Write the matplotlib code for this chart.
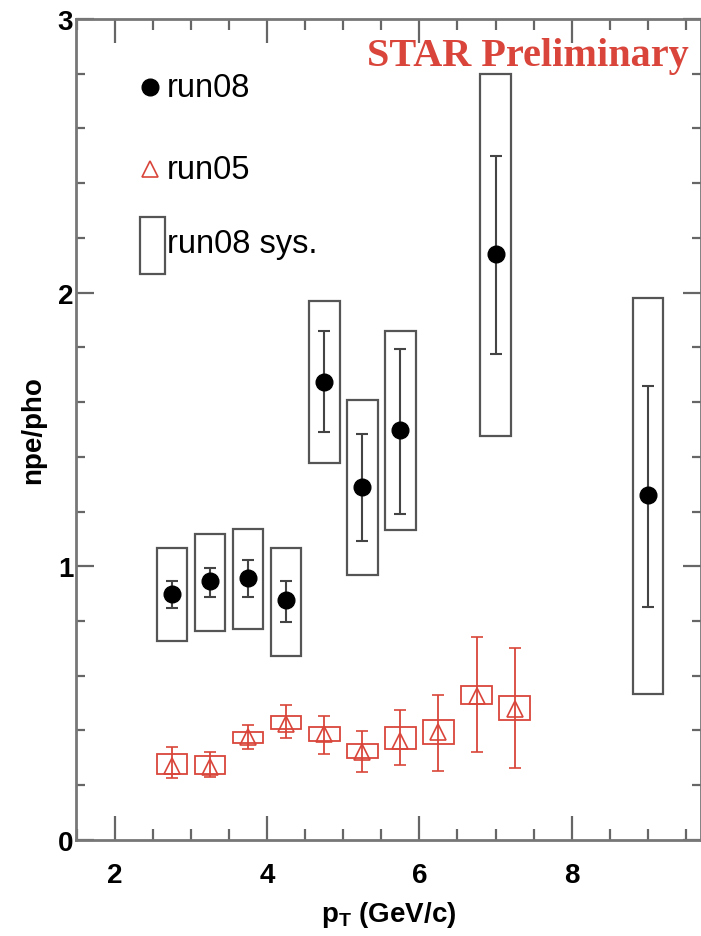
import numpy as np
import matplotlib.pyplot as plt
from matplotlib.patches import Rectangle
from matplotlib.ticker import MultipleLocator

# run08: npe/pho with stat errors and systematic bands
pt08 = [2.75, 3.25, 3.75, 4.25, 4.75, 5.25, 5.75, 7.0, 9.0]
r08 = [0.90, 0.945, 0.957, 0.877, 1.673, 1.290, 1.498, 2.141, 1.262]
r08_lo = [0.848, 0.888, 0.888, 0.797, 1.491, 1.092, 1.191, 1.776, 0.852]
r08_hi = [0.946, 0.994, 1.023, 0.946, 1.860, 1.483, 1.794, 2.499, 1.660]
r08_sys_lo = [0.727, 0.764, 0.771, 0.672, 1.377, 0.968, 1.133, 1.476, 0.533]
r08_sys_hi = [1.067, 1.118, 1.136, 1.067, 1.969, 1.608, 1.860, 2.799, 1.979]

# run05
pt05 = [2.75, 3.25, 3.75, 4.25, 4.75, 5.25, 5.75, 6.25, 6.75, 7.25]
r05 = [0.270, 0.266, 0.376, 0.424, 0.387, 0.322, 0.362, 0.395, 0.526, 0.479]
r05_lo = [0.227, 0.229, 0.332, 0.373, 0.314, 0.248, 0.274, 0.252, 0.322, 0.263]
r05_hi = [0.339, 0.321, 0.420, 0.493, 0.453, 0.398, 0.475, 0.530, 0.742, 0.701]
r05_sys_lo = [0.241, 0.241, 0.354, 0.406, 0.362, 0.300, 0.332, 0.351, 0.497, 0.438]
r05_sys_hi = [0.314, 0.307, 0.394, 0.453, 0.413, 0.351, 0.413, 0.438, 0.563, 0.526]

box_w = 0.4
red = '#d9453a'
grey = '#555555'

fig = plt.figure(figsize=(7.01, 9.37), dpi=100)
ax = fig.add_axes([0.1084, 0.1025, 0.8916, 0.8762])
ax.set_xlim(1.487, 9.70)
ax.set_ylim(0, 3)

for x, lo, hi in zip(pt08, r08_sys_lo, r08_sys_hi):
    ax.add_patch(Rectangle((x - box_w / 2, lo), box_w, hi - lo, fill=False,
                           edgecolor=grey, lw=1.6, zorder=2))
for x, lo, hi in zip(pt05, r05_sys_lo, r05_sys_hi):
    ax.add_patch(Rectangle((x - box_w / 2, lo), box_w, hi - lo, fill=False,
                           edgecolor=red, lw=1.3, zorder=2))

r08 = np.array(r08)
r05 = np.array(r05)
ax.errorbar(pt08, r08, yerr=[r08 - np.array(r08_lo), np.array(r08_hi) - r08],
            fmt='o', color='black', ecolor='#444444', elinewidth=1.5,
            capsize=4, capthick=1.5, markersize=12, zorder=4)
ax.errorbar(pt05, r05, yerr=[r05 - np.array(r05_lo), np.array(r05_hi) - r05],
            fmt='^', color=red, mfc='none', mec=red, mew=1.2, elinewidth=1.3,
            capsize=4, capthick=1.3, markersize=11, zorder=3)

# axis styling
for s in ax.spines.values():
    s.set_color('#777777')
    s.set_linewidth(2)
ax.xaxis.set_major_locator(MultipleLocator(2))
ax.xaxis.set_minor_locator(MultipleLocator(0.5))
ax.yaxis.set_major_locator(MultipleLocator(1))
ax.yaxis.set_minor_locator(MultipleLocator(0.2))
ax.tick_params(axis='both', which='both', direction='in', color='#666666',
               top=True, right=True, width=1.6)
ax.tick_params(axis='x', which='major', length=17, pad=16)
ax.tick_params(axis='x', which='minor', length=8)
ax.tick_params(axis='y', which='major', length=13, pad=2)
ax.tick_params(axis='y', which='minor', length=6.5)
for lab in ax.get_xticklabels() + ax.get_yticklabels():
    lab.set_fontsize(20)
    lab.set_fontweight('bold')
    lab.set_family('Liberation Sans')

ax.set_xlabel(r'p$_\mathregular{T}$ (GeV/c)', fontsize=20, fontweight='bold',
              family='Liberation Sans', labelpad=8)
ax.set_ylabel('npe/pho', fontsize=20, fontweight='bold',
              family='Liberation Sans', labelpad=8)

ax.text(0.98, 0.955, 'STAR Preliminary', transform=ax.transAxes, ha='right',
        va='center', color=red, fontsize=29, fontweight='bold',
        family='Liberation Serif')

# legend drawn by hand
ax.plot([2.46], [2.75], 'o', color='black', markersize=12)
ax.text(2.68, 2.75, 'run08', fontsize=23.5, va='center', family='Liberation Sans')
ax.plot([2.46], [2.45], '^', color=red, mfc='none', mew=1.2, markersize=11)
ax.text(2.68, 2.45, 'run05', fontsize=23.5, va='center', family='Liberation Sans')
ax.add_patch(Rectangle((2.33, 2.068), 0.33, 0.208, fill=False, edgecolor=grey, lw=1.6))
ax.text(2.68, 2.18, 'run08 sys.', fontsize=23.5, va='center', family='Liberation Sans')

fig.savefig('out.png', dpi=100)
